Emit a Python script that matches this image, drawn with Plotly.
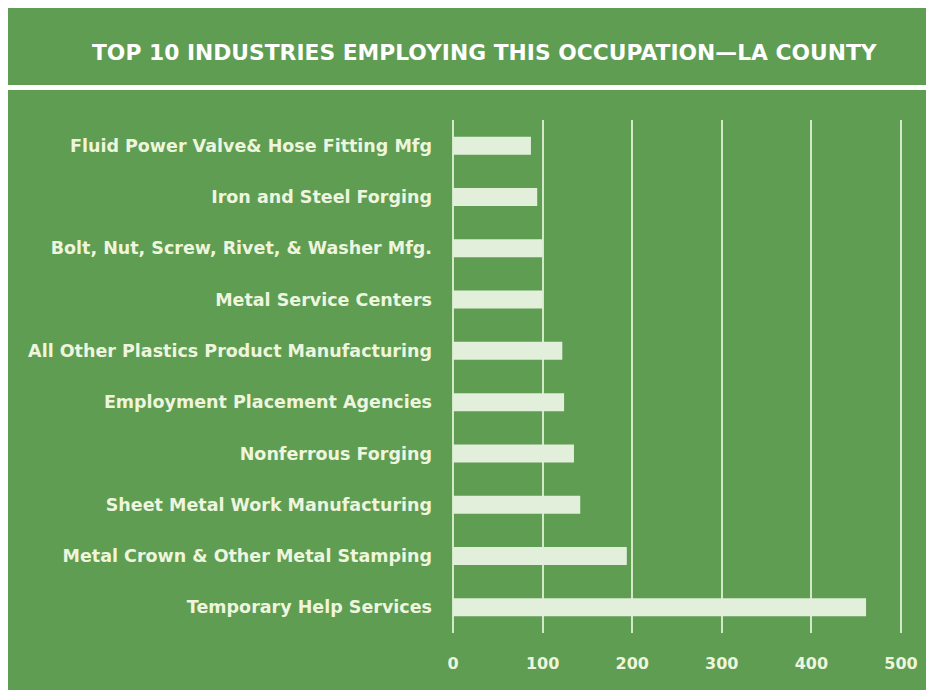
import plotly.graph_objects as go

industries = [
    "Temporary Help Services",
    "Metal Crown & Other Metal Stamping",
    "Sheet Metal Work Manufacturing",
    "Nonferrous Forging",
    "Employment Placement Agencies",
    "All Other Plastics Product Manufacturing",
    "Metal Service Centers",
    "Bolt, Nut, Screw, Rivet, & Washer Mfg.",
    "Iron and Steel Forging",
    "Fluid Power Valve& Hose Fitting Mfg",
]
employment = [461, 194, 142, 135, 124, 122, 100, 100, 94, 87]
x_ticks = [0, 100, 200, 300, 400, 500]

OFF = 8  # page body margin
W, H = 934 - OFF, 690 - OFF
# plot area in window pixels: x 453..905, y 120..633 (500 falls at 901)
L, R = 453 - OFF, 934 - 905
T, B = 120 - OFF, 690 - 633
pw, ph = W - L - R, H - T - B
XMAX = 500 * pw / 448.0

def px(xp):
    return (xp - OFF - L) / pw

def py(yp):
    return (H - B - (yp - OFF)) / ph

GREEN = "#5E9D52"
BAR = "#E2EFDA"
GRID = "#D2E8C6"
TXT = "#EEF5DE"
FONT = "DejaVu Sans"

fig = go.Figure(go.Bar(
    x=employment, y=industries, orientation="h",
    marker=dict(color=BAR, line=dict(width=0)),
    hoverinfo="x+y",
))

fig.update_layout(
    width=W, height=H,
    margin=dict(l=L, r=R, t=T, b=B, autoexpand=False),
    paper_bgcolor="white",
    plot_bgcolor="rgba(0,0,0,0)",
    bargap=0.65,
    showlegend=False,
    font=dict(family=FONT, color=TXT),
    xaxis=dict(
        range=[0, XMAX], tickvals=x_ticks, showgrid=True, gridcolor=GRID, gridwidth=2,
        zeroline=True, zerolinecolor=GRID, zerolinewidth=2,
        showline=False, ticks="", fixedrange=True,
        tickfont=dict(size=16, color=TXT, family=FONT, weight="bold"),
        ticklabelstandoff=19,
    ),
    yaxis=dict(
        showgrid=False, zeroline=False, showline=False, ticks="",
        tickfont=dict(size=17.5, color=TXT, family=FONT, weight="bold"),
        ticklabelstandoff=20,
    ),
    shapes=[
        dict(type="rect", xref="paper", yref="paper", layer="below",
             x0=px(6), x1=px(940), y0=py(85), y1=py(7),
             fillcolor=GREEN, line=dict(width=0)),
        dict(type="rect", xref="paper", yref="paper", layer="below",
             x0=px(8), x1=px(940), y0=py(700), y1=py(90),
             fillcolor=GREEN, line=dict(width=0)),
    ],
    annotations=[
        dict(text="TOP 10 INDUSTRIES EMPLOYING THIS OCCUPATION\u2014LA COUNTY",
             xref="paper", yref="paper", x=px(484), y=py(52),
             xanchor="center", yanchor="middle", showarrow=False,
             font=dict(size=21.8, color="white", family=FONT, weight="bold")),
    ],
)

fig.write_html("out.html")
